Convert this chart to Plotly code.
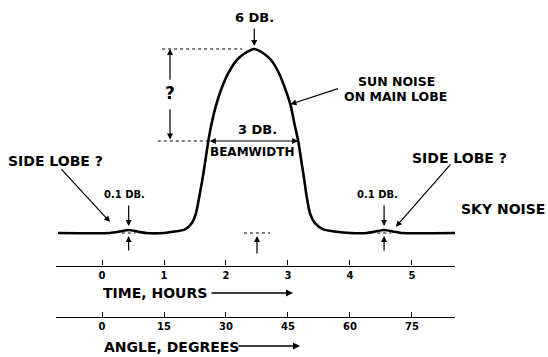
import plotly.graph_objects as go

# Receiver output vs. time while the sun drifts through the antenna beam
time_h = [-0.71, 0.13, 0.29, 0.43, 0.57, 0.71, 1.00, 1.145, 1.339, 1.447, 1.516,
          1.569, 1.618, 1.661, 1.715, 1.769, 1.834, 1.919, 2.037, 2.173, 2.306,
          2.456, 2.602, 2.726, 2.855, 2.963, 3.048, 3.102, 3.165, 3.221, 3.263,
          3.302, 3.355, 3.435, 3.569, 3.785, 4.00, 4.27, 4.41, 4.55, 4.69, 4.83,
          5.71]
gain_db = [0.0, 0.0, 0.05, 0.1, 0.05, 0.0, 0.0, 0.04, 0.12, 0.32, 0.64,
           1.18, 1.73, 2.27, 3.0, 3.58, 4.12, 4.66, 5.21, 5.64, 5.86,
           6.0, 5.86, 5.64, 5.21, 4.66, 4.12, 3.58, 3.0, 2.27, 1.73,
           1.18, 0.64, 0.32, 0.12, 0.04, 0.0, 0.0, 0.05, 0.1, 0.05, 0.0,
           0.0]

hour_ticks = [0, 1, 2, 3, 4, 5]
angle_ticks = [0, 15, 30, 45, 60, 75]
DEG_PER_HOUR = 15

peak_db = 6.0
half_power_db = 3.0
side_lobe_db = 0.1
side_lobe_t = [0.43, 4.55]
peak_t = 2.456
beam_edges_t = [1.715, 3.165]

W, H = 548, 357
T_RANGE = [-0.742, 5.694]
DB_RANGE = [-4.043, 7.597]
FONT = "DejaVu Sans"


def px(x):
    return x / W


def py(y):
    return 1 - y / H


fig = go.Figure()
fig.add_trace(go.Scatter(
    x=time_h, y=gain_db, mode="lines", xaxis="x", yaxis="y",
    line=dict(color="black", width=2.6, shape="spline", smoothing=0.6),
    hoverinfo="skip", showlegend=False))
# anchor trace so the angle scale is drawn
fig.add_trace(go.Scatter(
    x=angle_ticks, y=[-10] * len(angle_ticks), mode="markers", xaxis="x2", yaxis="y",
    marker=dict(opacity=0), hoverinfo="skip", showlegend=False))

axis_common = dict(
    domain=[px(56), px(455)], anchor="free", showline=True, linecolor="black",
    linewidth=1.4, ticks="inside", ticklen=5, tickwidth=1.2, tickcolor="black",
    showgrid=False, zeroline=False,
    tickfont=dict(family=FONT, size=10, color="black", weight="bold"))

fig.update_layout(
    width=W, height=H, margin=dict(l=0, r=0, t=0, b=0),
    paper_bgcolor="white", plot_bgcolor="white",
    xaxis=dict(range=T_RANGE, position=py(265.5), tickvals=hour_ticks,
               ticktext=[str(v) for v in hour_ticks], **axis_common),
    xaxis2=dict(range=[T_RANGE[0] * DEG_PER_HOUR, T_RANGE[1] * DEG_PER_HOUR],
                overlaying="x", position=py(317), tickvals=angle_ticks,
                ticktext=[str(v) for v in angle_ticks], **axis_common),
    yaxis=dict(range=DB_RANGE, domain=[0, 1], visible=False),
)


def label(text, x, y, size=13, xanchor="center"):
    fig.add_annotation(text=text, x=px(x), y=py(y), xref="paper", yref="paper",
                       showarrow=False, xanchor=xanchor, yanchor="middle",
                       font=dict(family=FONT, size=size, color="black", weight="bold"))


def arrow(x, y, ax, ay, xref="x", yref="y", side="end", width=1.2):
    fig.add_annotation(text="", x=x, y=y, xref=xref, yref=yref, ax=ax, ay=ay,
                       showarrow=True, arrowhead=2, arrowsize=1, arrowwidth=width,
                       arrowcolor="black", arrowside=side, standoff=0)


def data_arrow(x0, y0, x1, y1, side="end"):
    fig.add_annotation(text="", x=x1, y=y1, ax=x0, ay=y0, xref="x", yref="y",
                       axref="x", ayref="y", showarrow=True, arrowhead=2,
                       arrowsize=1, arrowwidth=1.2, arrowcolor="black",
                       arrowside=side, standoff=0)


def dotted(x0, x1, y):
    fig.add_shape(type="line", x0=x0, x1=x1, y0=y, y1=y, xref="x", yref="y",
                  line=dict(color="black", width=1, dash="dot"))


# peak and half-power levels
label("6 DB.", 254, 17)
arrow(peak_t, peak_db + 0.1, 0, -19)
dotted(0.97, 2.26, peak_db)
dotted(0.90, beam_edges_t[0], half_power_db)
label("?", 170, 93, size=17)
data_arrow(1.097, 4.95, 1.097, peak_db)
data_arrow(1.097, 4.08, 1.097, half_power_db + 0.05)

# beamwidth
data_arrow(beam_edges_t[0], half_power_db, beam_edges_t[1], half_power_db, side="end+start")
label("3 DB.", 257, 129)
label("BEAMWIDTH", 252, 152, size=12)

label("SUN NOISE", 396, 82, size=12.5)
label("ON MAIN LOBE", 395, 97, size=12.5)
arrow(3.04, 4.2, 49, -16)

# side lobes
label("SIDE LOBE ?", 55, 161, size=14)
arrow(0.13, 0.36, -50, -54)
label("SIDE LOBE ?", 459, 158, size=14)
arrow(4.74, 0.2, 56, -64)

for t, xc in zip(side_lobe_t, [124, 377]):
    label("0.1 DB.", xc, 195, size=10)
    arrow(t, side_lobe_db + 0.13, 0, -22)
    arrow(t, -0.1, 0, 16)
    dotted(t - 0.11, t + 0.11, 0.0)

# baseline reference under the main lobe
dotted(2.29, 2.71, 0.0)
arrow(2.5, -0.1, 0, 19)

label("SKY NOISE", 503, 209, size=14)
arrow(5.74, 0.13, 21, -12)

# scale titles
label("TIME, HOURS", 101, 293, size=14, xanchor="left")
arrow(px(293), py(293), -83, 0, xref="paper", yref="paper", width=1.4)
label("ANGLE, DEGREES", 102, 347, size=14, xanchor="left")
arrow(px(300), py(346), -63, 0, xref="paper", yref="paper", width=1.4)

fig.write_html("out.html")
